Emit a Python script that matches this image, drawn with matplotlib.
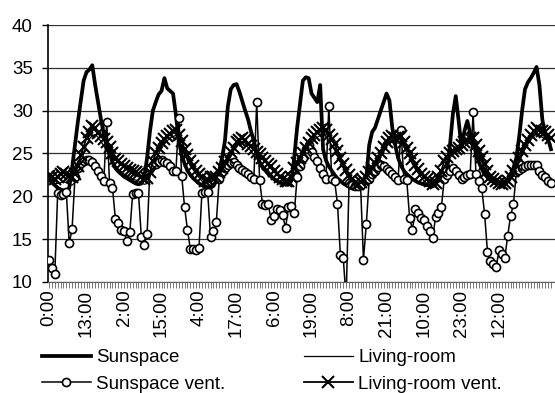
import numpy as np
import matplotlib.pyplot as plt

plt.rcParams['font.family'] = ['Liberation Sans', 'DejaVu Sans']

# hourly temperatures (deg C), one row per day
sunspace = [
    22.0, 21.6, 21.3, 21.0, 20.8, 20.7, 20.6, 21.0, 23.3, 26.0, 28.7, 31.1, 33.5, 34.5, 34.8, 35.3, 33.0, 31.0, 29.0, 27.3, 26.0, 25.0, 24.0, 23.3,
    22.9, 22.6, 22.3, 22.1, 21.9, 21.7, 21.5, 21.4, 21.5, 22.2, 24.5, 27.6, 30.0, 31.0, 31.9, 32.3, 33.8, 32.6, 32.3, 32.0, 29.5, 26.5, 24.8, 23.8,
    23.0, 22.5, 22.1, 21.8, 21.5, 21.3, 21.1, 21.0, 21.0, 21.2, 21.8, 23.0, 24.5, 26.5, 30.5, 32.5, 33.0, 33.1, 32.2, 31.1, 30.0, 29.0, 27.6, 26.5,
    25.0, 24.0, 23.4, 23.0, 22.6, 22.3, 22.0, 21.8, 21.6, 21.5, 21.4, 21.4, 21.8, 24.5, 28.0, 30.8, 33.5, 33.9, 33.8, 32.0, 31.5, 31.0, 33.0, 25.5,
    24.2, 23.5, 23.0, 22.5, 22.1, 21.8, 21.5, 21.3, 21.1, 21.0, 20.9, 20.9, 21.0, 21.4, 22.2, 26.0, 27.5, 28.0, 29.0, 30.0, 31.0, 32.0, 31.2, 28.0,
    26.0, 24.5, 23.6, 23.0, 22.6, 22.3, 22.0, 21.8, 21.6, 21.5, 21.4, 21.3, 21.3, 21.4, 21.6, 21.8, 22.0, 22.2, 23.0, 26.0, 29.6, 31.7, 28.8, 25.7,
    27.6, 28.8, 27.4, 26.5, 25.0, 24.0, 23.2, 22.6, 22.2, 21.9, 21.7, 21.5, 21.5, 21.5, 21.7, 22.0, 22.6, 23.3, 24.5, 27.0, 30.0, 32.5, 33.3, 33.8,
    34.4, 35.1, 33.0, 29.0, 27.0, 26.7, 25.5,
]

living_room = [
    21.9, 21.7, 21.5, 21.5, 21.6, 21.7, 21.6, 21.4, 21.3, 21.6, 22.5, 23.8, 25.0, 26.0, 26.7, 27.1, 27.2, 26.9, 26.4, 25.9, 25.3, 24.7, 24.1, 23.6,
    23.2, 22.9, 22.6, 22.4, 22.2, 22.0, 21.9, 21.8, 21.6, 21.4, 21.5, 22.3, 23.4, 24.3, 25.0, 25.6, 26.1, 26.5, 26.8, 27.0, 27.1, 26.6, 25.8, 24.9,
    24.2, 23.6, 23.1, 22.6, 22.2, 21.8, 21.4, 21.2, 21.3, 21.5, 21.7, 22.2, 22.8, 23.5, 24.1, 24.7, 25.3, 25.8, 26.2, 26.4, 26.2, 25.7, 25.3, 24.8,
    24.4, 24.0, 23.7, 23.3, 23.0, 22.6, 22.2, 21.9, 21.6, 21.4, 21.2, 21.2, 21.6, 22.6, 23.3, 24.0, 24.6, 25.2, 25.7, 26.2, 26.6, 26.9, 27.1, 27.3,
    27.0, 26.5, 26.0, 25.4, 24.7, 24.0, 23.3, 22.6, 22.0, 21.5, 21.1, 20.9, 21.1, 21.4, 21.8, 22.3, 22.8, 23.4, 24.0, 24.6, 25.2, 25.8, 26.2, 26.4,
    26.3, 26.2, 26.3, 25.8, 25.1, 24.5, 23.8, 23.2, 22.7, 22.2, 21.8, 21.5, 21.2, 21.0, 21.2, 21.7, 22.5, 23.5, 24.1, 24.5, 24.9, 25.1, 25.3, 25.6,
    25.8, 26.1, 26.3, 26.2, 25.5, 24.8, 24.0, 23.3, 22.5, 21.9, 21.5, 21.3, 21.1, 21.0, 21.2, 21.5, 21.9, 22.5, 23.2, 24.0, 24.8, 25.5, 26.1, 26.6,
    27.0, 27.3, 27.1, 26.9, 26.7, 26.4, 26.1,
]

sunspace_vent = [
    12.6, 11.6, 10.9, 20.4, 20.2, 20.3, 20.5, 14.5, 16.2, 22.2, 23.3, 23.9, 24.1, 24.2, 24.2, 24.0, 23.5, 23.0, 22.4, 21.8, 28.7, 21.5, 21.0, 17.4,
    16.9, 16.1, 15.9, 14.8, 15.8, 20.3, 20.4, 20.4, 15.3, 14.3, 15.6, 23.3, 23.6, 23.8, 24.0, 24.2, 24.0, 23.9, 23.5, 23.0, 23.0, 29.2, 22.4, 18.7,
    16.1, 13.8, 13.9, 13.7, 14.0, 20.4, 20.5, 20.5, 15.2, 15.9, 17.0, 22.0, 22.8, 23.3, 23.6, 23.9, 24.0, 23.6, 23.3, 23.1, 22.8, 22.6, 22.3, 22.0,
    31.0, 21.9, 19.1, 19.0, 19.1, 17.2, 17.7, 18.5, 18.4, 17.8, 16.3, 18.7, 18.9, 18.0, 22.2, 23.5, 24.5, 25.5, 26.0, 25.2, 24.6, 24.1, 23.3, 22.6,
    22.0, 30.5, 22.0, 21.8, 19.1, 13.2, 12.8, 8.0, 21.5, 21.3, 21.2, 21.2, 21.3, 12.6, 16.8, 22.0, 22.6, 23.0, 23.4, 23.6, 23.5, 23.2, 22.9, 22.6,
    22.2, 21.9, 27.8, 22.0, 21.9, 17.5, 16.1, 18.5, 18.0, 17.5, 17.2, 16.5, 16.0, 15.1, 17.6, 18.0, 18.7, 22.0, 22.5, 23.0, 23.3, 23.0, 22.5, 22.0,
    22.2, 22.5, 22.6, 29.8, 22.6, 21.8, 21.0, 17.9, 13.5, 12.4, 12.1, 11.7, 13.7, 13.3, 12.8, 15.4, 17.7, 19.1, 22.8, 23.1, 23.3, 23.5, 23.6, 23.7,
    23.7, 23.6, 23.0, 22.5, 22.2, 21.8, 21.5,
]

living_room_vent = [
    22.4, 22.2, 22.0, 22.3, 22.6, 22.8, 22.6, 22.4, 22.3, 22.6, 23.5, 24.8, 25.8, 26.8, 27.5, 28.2, 28.0, 27.4, 27.0, 26.7, 26.3, 25.8, 25.0, 24.3,
    24.1, 23.8, 23.5, 23.3, 23.1, 22.9, 22.8, 22.6, 22.3, 22.0, 22.1, 22.8, 24.1, 25.0, 25.7, 26.2, 26.7, 27.0, 27.3, 27.6, 27.8, 27.2, 26.5, 25.5,
    24.8, 24.1, 23.5, 23.0, 22.6, 22.2, 21.8, 21.9, 22.2, 22.2, 22.3, 22.8, 23.3, 24.0, 24.5, 25.2, 25.7, 26.3, 26.6, 26.8, 26.6, 26.1, 25.9, 25.5,
    25.2, 24.9, 24.5, 24.1, 23.8, 23.5, 23.0, 22.6, 22.3, 22.0, 21.8, 21.8, 22.3, 23.3, 23.9, 24.5, 25.1, 25.7, 26.2, 26.8, 27.2, 27.5, 27.8, 28.0,
    27.7, 27.2, 26.7, 26.1, 25.3, 24.5, 23.8, 23.1, 22.5, 22.0, 21.5, 21.4, 21.7, 21.9, 22.3, 22.8, 23.3, 23.9, 24.5, 25.0, 25.8, 26.4, 26.8, 27.0,
    26.8, 26.9, 27.0, 26.3, 25.6, 25.0, 24.3, 23.7, 23.2, 22.6, 22.3, 22.0, 21.8, 21.4, 21.6, 22.2, 23.0, 24.1, 24.6, 25.0, 25.3, 25.5, 25.7, 26.0,
    26.3, 26.6, 26.8, 26.8, 26.0, 25.3, 24.6, 23.8, 23.0, 22.2, 22.0, 21.8, 21.6, 21.4, 21.6, 21.8, 22.3, 23.0, 23.7, 24.5, 25.3, 26.0, 26.6, 27.2,
    27.6, 28.0, 27.8, 27.6, 27.5, 27.2, 26.8,
]

tick_labels = ["0:00", "13:00", "2:00", "15:00", "4:00", "17:00", "6:00",
               "19:00", "8:00", "21:00", "10:00", "23:00", "12:00"]

hours = np.arange(len(sunspace))

fig = plt.figure(figsize=(5.55, 3.93), dpi=100)
ax = fig.add_axes([48 / 555, 1 - 282 / 393, 1 - 48 / 555, 257 / 393])

l1, = ax.plot(hours, sunspace, color='black', lw=2.7, solid_joinstyle='round', zorder=3)
l2, = ax.plot(hours, living_room, color='black', lw=0.9, zorder=3)
l3, = ax.plot(hours, sunspace_vent, color='black', lw=1.1, marker='o', ms=5.8,
              mfc='white', mec='black', mew=1.2, zorder=4)
l4, = ax.plot(hours, living_room_vent, color='black', lw=1.3, marker='x', ms=8,
              mew=1.5, zorder=5)

ax.set_ylim(10, 40)
ax.set_xlim(-0.35, 175.4)
ax.set_yticks(np.arange(10, 41, 5))
ax.set_xticks(np.arange(0, 13 * len(tick_labels), 13))
ax.set_xticklabels(tick_labels, rotation=90)
ax.set_xticks(hours, minor=True)

ax.grid(axis='y', color='#303030', lw=0.9)
ax.set_axisbelow(True)
for side in ['top', 'right']:
    ax.spines[side].set_visible(False)
ax.spines['left'].set_linewidth(1.2)
ax.spines['bottom'].set_color('#606060')
ax.tick_params(axis='y', labelsize=13.5, length=4, width=1, pad=7)
ax.tick_params(axis='x', which='both', labelsize=13.5, length=4, width=0.6,
               color='#606060', pad=1.5)

fig.legend([l1, l3, l2, l4],
           ["Sunspace", "Sunspace vent.", "Living-room", "Living-room vent."],
           ncol=2, loc='upper left', bbox_to_anchor=(42 / 555, 1 - 349 / 393),
           frameon=False, fontsize=13.5, numpoints=1, handlelength=2.6,
           handletextpad=0.28, columnspacing=4.2, labelspacing=0.5,
           borderpad=0, borderaxespad=0)

fig.savefig('out.png', dpi=100)
